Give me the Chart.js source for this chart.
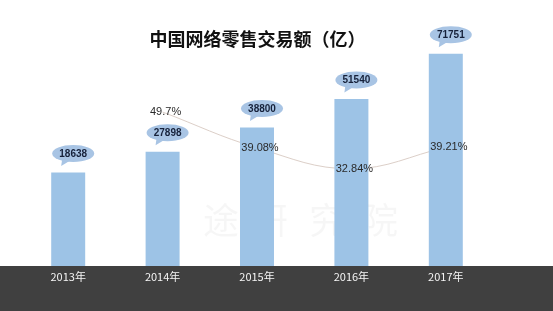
<!DOCTYPE html>
<html>
<head>
<meta charset="utf-8">
<script src="https://cdn.jsdelivr.net/npm/chart.js@4.4.1/dist/chart.umd.min.js"></script>
<style>
  html, body { margin: 0; padding: 0; background: #ffffff; }
  #wrap { width: 553px; height: 311px; position: relative; }
</style>
</head>
<body>
<div id="wrap"><canvas id="c" width="553" height="311"></canvas></div>
<script>
// ---- data ----
const categories = ['2013年', '2014年', '2015年', '2016年', '2017年'];
const salesValues = [18638, 27898, 38800, 51540, 71751];
const growthRates = [null, 49.7, 39.08, 32.84, 39.21];
const titleText = '中国网络零售交易额（亿）';
const watermarkText = ['途', '研', '究', '院'];

// ---- scale settings ----
const Y_MIN = -23214, Y_MAX = 95834;
const Y2_MIN = 3.95, Y2_MAX = 83.0;

const bandPlugin = {
  id: 'band',
  beforeDraw(chart) {
    const { ctx, chartArea, width, height } = chart;
    ctx.save();
    ctx.fillStyle = '#ffffff';
    ctx.fillRect(0, 0, width, height);
    ctx.fillStyle = '#404040';
    ctx.fillRect(0, chartArea.bottom, width, height - chartArea.bottom);
    ctx.restore();
  },
  beforeDatasetsDraw(chart) {
    const { ctx } = chart;
    ctx.save();
    ctx.fillStyle = 'rgba(0,0,0,0.035)';
    ctx.font = '36px "Noto Sans CJK SC"';
    ctx.textAlign = 'center';
    ctx.textBaseline = 'middle';
    const xs = [221, 270, 327, 380];
    watermarkText.forEach((t, i) => ctx.fillText(t, xs[i], 220));
    ctx.restore();
  },
  afterDatasetsDraw(chart) {
    const { ctx } = chart;
    ctx.save();
    // growth labels
    const lineMeta = chart.getDatasetMeta(1);
    ctx.font = '11px "Liberation Sans", Arial, sans-serif';
    ctx.fillStyle = '#2a2a2a';
    ctx.textAlign = 'center';
    ctx.textBaseline = 'middle';
    lineMeta.data.forEach((pt, i) => {
      const v = growthRates[i];
      if (v === null || v === undefined) return;
      ctx.fillText(v + '%', pt.x + 3, pt.y);
    });
    // bubbles
    const barMeta = chart.getDatasetMeta(0);
    barMeta.data.forEach((bar, i) => {
      const cx = bar.x + 5, cy = bar.y - 19;
      ctx.fillStyle = '#a8c4e4';
      ctx.beginPath();
      ctx.ellipse(cx, cy, 21, 8.5, 0, 0, Math.PI * 2);
      ctx.fill();
      ctx.beginPath();
      ctx.moveTo(cx - 11, cy + 5);
      ctx.lineTo(cx - 3, cy + 7);
      ctx.lineTo(cx - 12, cy + 12.5);
      ctx.closePath();
      ctx.fill();
      ctx.fillStyle = '#16213a';
      ctx.font = 'bold 10px "Liberation Sans", Arial, sans-serif';
      ctx.fillText(String(salesValues[i]), cx, cy + 0.5);
    });
    ctx.restore();
  },
  afterDraw(chart) {
    const { ctx } = chart;
    ctx.save();
    ctx.fillStyle = '#111111';
    ctx.font = 'bold 18px "Noto Sans CJK SC"';
    ctx.textAlign = 'center';
    ctx.textBaseline = 'middle';
    ctx.fillText(titleText, 257.5, 39);
    ctx.restore();
  }
};

new Chart(document.getElementById('c'), {
  type: 'bar',
  data: {
    labels: categories,
    datasets: [
      {
        type: 'bar',
        data: salesValues,
        backgroundColor: '#9dc3e6',
        base: Y_MIN,
        barPercentage: 0.36,
        categoryPercentage: 1,
        yAxisID: 'y',
        order: 1
      },
      {
        type: 'line',
        data: growthRates,
        borderColor: '#dccfc8',
        borderWidth: 1,
        pointRadius: 0,
        tension: 0.4,
        fill: false,
        spanGaps: false,
        yAxisID: 'y2',
        order: 2
      }
    ]
  },
  options: {
    responsive: false,
    animation: false,
    layout: { padding: { left: 21, right: 60, top: 0, bottom: 0 } },
    plugins: { legend: { display: false }, tooltip: { enabled: false }, title: { display: false } },
    scales: {
      x: {
        offset: true,
        grid: { display: false, drawTicks: false },
        border: { display: false },
        ticks: { color: '#f5f5f5', font: { size: 11, family: '"Noto Sans CJK SC"' }, padding: 4 },
        afterFit(scale) { scale.height = 45; }
      },
      y: { display: false, min: Y_MIN, max: Y_MAX },
      y2: { display: false, min: Y2_MIN, max: Y2_MAX, position: 'right' }
    }
  },
  plugins: [bandPlugin]
});
</script>
</body>
</html>
